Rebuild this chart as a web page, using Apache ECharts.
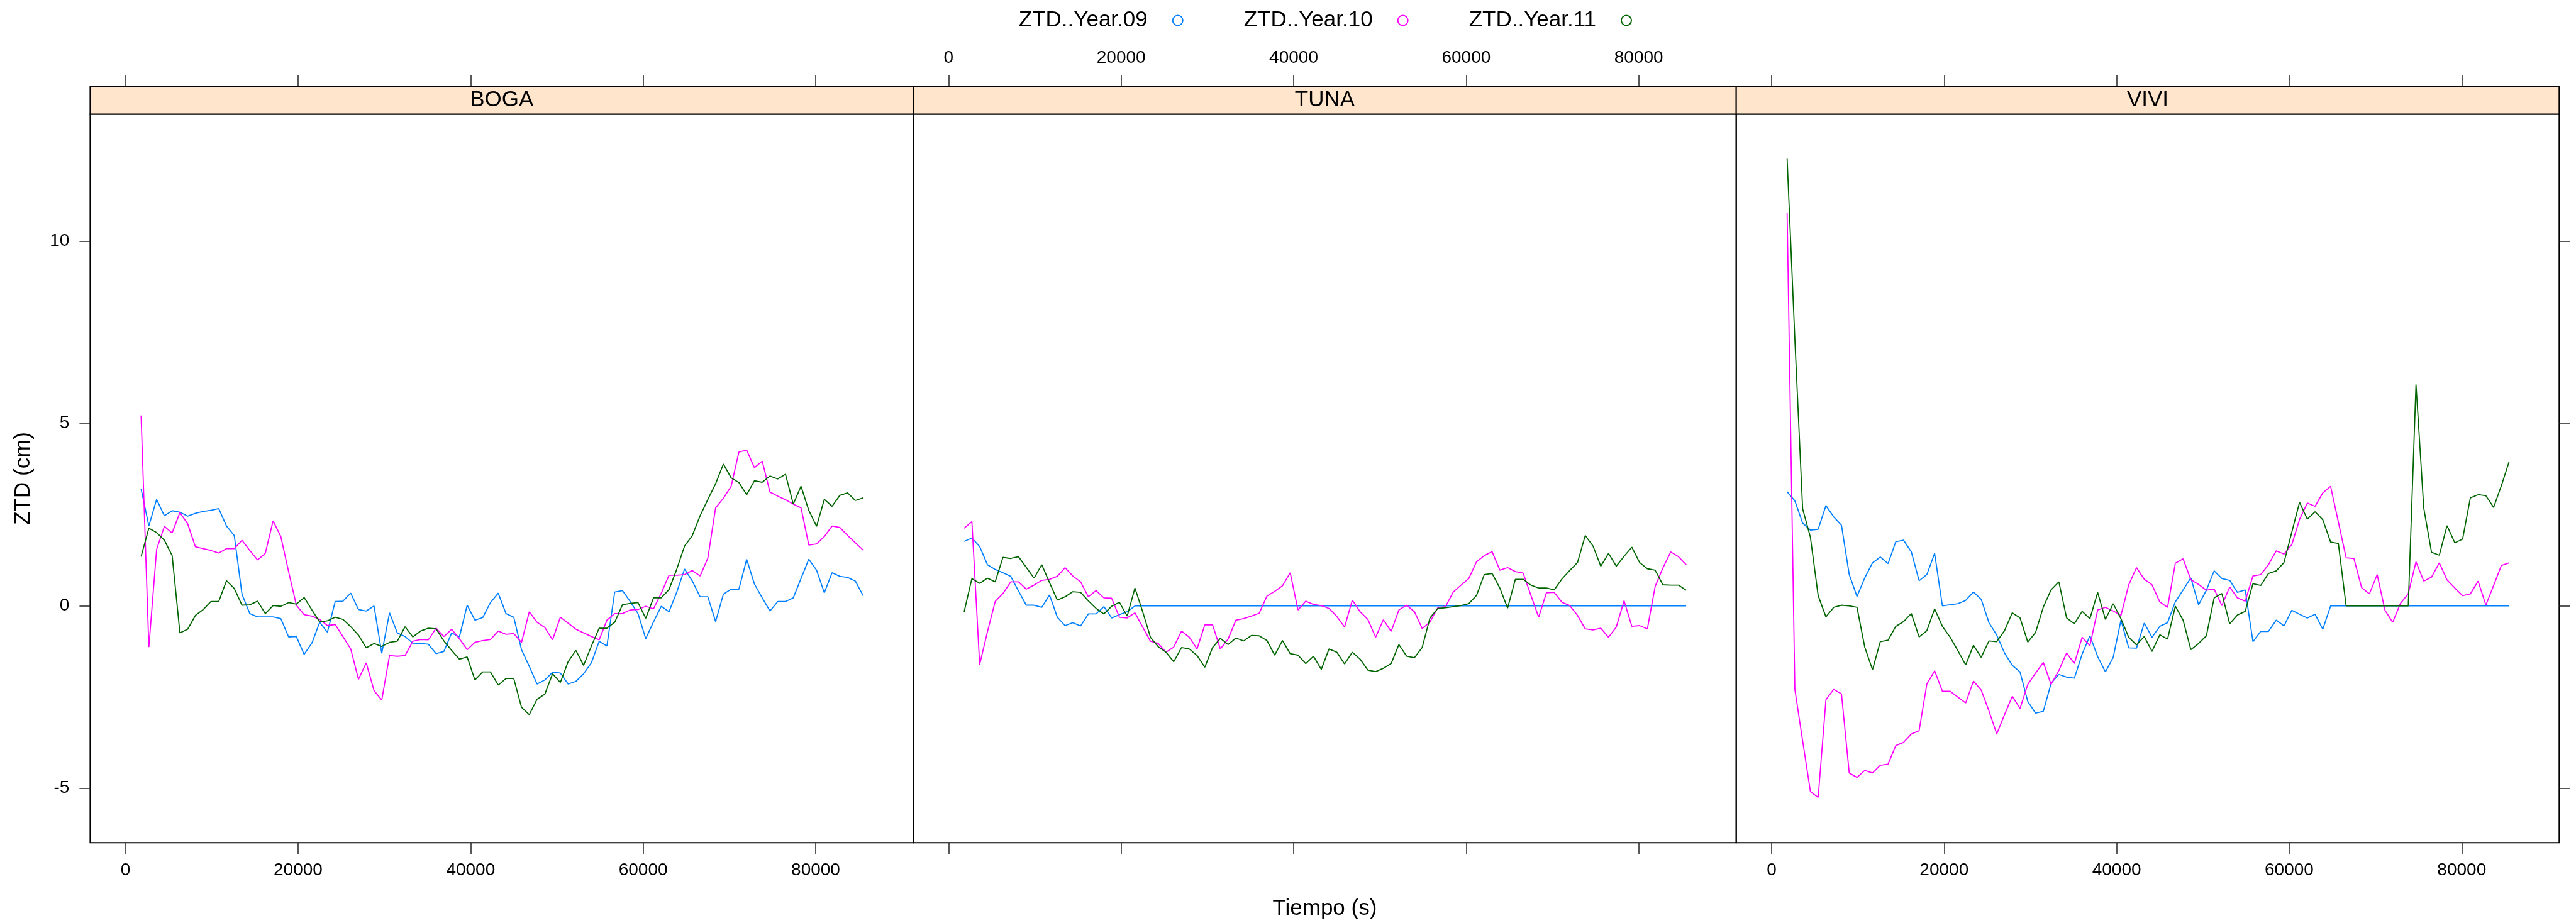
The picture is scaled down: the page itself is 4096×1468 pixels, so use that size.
<!DOCTYPE html>
<html>
<head>
<meta charset="utf-8">
<script src="https://cdn.jsdelivr.net/npm/echarts@6/dist/echarts.min.js"></script>
<style>
html,body{margin:0;padding:0;background:#fff;}
#chart{width:4096px;height:1468px;}
</style>
</head>
<body>
<div id="chart"></div>
<script>
// ---------- data ----------
const sites = ['BOGA', 'TUNA', 'VIVI'];
const seriesNames = ['ZTD..Year.09', 'ZTD..Year.10', 'ZTD..Year.11'];
const xTicks = [0, 20000, 40000, 60000, 80000];
const yTicks = [-5, 0, 5, 10];
const times = [1800,2700,3600,4500,5400,6300,7200,8100,9000,9900,
  10800,11700,12600,13500,14400,15300,16200,17100,18000,18900,
  19800,20700,21600,22500,23400,24300,25200,26100,27000,27900,
  28800,29700,30600,31500,32400,33300,34200,35100,36000,36900,
  37800,38700,39600,40500,41400,42300,43200,44100,45000,45900,
  46800,47700,48600,49500,50400,51300,52200,53100,54000,54900,
  55800,56700,57600,58500,59400,60300,61200,62100,63000,63900,
  64800,65700,66600,67500,68400,69300,70200,71100,72000,72900,
  73800,74700,75600,76500,77400,78300,79200,80100,81000,81900,
  82800,83700,84600,85500];

const boga09 = [3.21,2.19,2.92,2.47,2.61,2.57,2.46,2.54,2.59,2.62,
  2.67,2.19,1.93,0.32,-0.21,-0.30,-0.30,-0.30,-0.35,-0.85,
  -0.84,-1.33,-1.02,-0.45,-0.72,0.12,0.13,0.35,-0.10,-0.14,
  0.00,-1.30,-0.19,-0.74,-0.84,-1.02,-1.03,-1.05,-1.31,-1.25,
  -0.74,-0.85,0.02,-0.39,-0.32,0.09,0.35,-0.21,-0.31,-1.20,
  -1.66,-2.14,-2.03,-1.82,-1.84,-2.14,-2.07,-1.86,-1.56,-0.97,
  -1.10,0.38,0.42,0.12,-0.21,-0.90,-0.44,-0.01,-0.16,0.38,
  1.01,0.68,0.25,0.25,-0.43,0.32,0.46,0.46,1.28,0.60,
  0.22,-0.14,0.12,0.12,0.22,0.75,1.28,0.98,0.36,0.91,
  0.81,0.78,0.68,0.28];
const boga10 = [5.22,-1.13,1.55,2.18,2.00,2.56,2.25,1.62,1.57,1.52,
  1.45,1.57,1.57,1.80,1.52,1.26,1.44,2.33,1.90,0.94,
  0.02,-0.24,-0.28,-0.37,-0.54,-0.51,-0.84,-1.18,-2.01,-1.56,
  -2.32,-2.58,-1.36,-1.38,-1.36,-0.97,-0.92,-0.93,-0.61,-0.84,
  -0.64,-0.90,-1.20,-1.00,-0.95,-0.92,-0.69,-0.78,-0.76,-1.00,
  -0.16,-0.45,-0.59,-0.93,-0.31,-0.47,-0.64,-0.74,-0.84,-0.93,
  -0.39,-0.21,-0.21,-0.11,-0.10,-0.01,-0.08,0.35,0.84,0.84,
  0.86,0.97,0.82,1.31,2.69,2.95,3.28,4.22,4.27,3.79,
  3.97,3.12,3.01,2.91,2.79,2.69,1.67,1.70,1.90,2.19,
  2.15,1.93,1.73,1.53];
const boga11 = [1.35,2.13,2.01,1.80,1.38,-0.74,-0.64,-0.26,-0.10,0.12,
  0.12,0.69,0.48,0.02,0.03,0.13,-0.21,0.01,-0.01,0.09,
  0.05,0.23,-0.11,-0.44,-0.41,-0.31,-0.37,-0.57,-0.80,-1.15,
  -1.03,-1.11,-1.00,-0.97,-0.57,-0.85,-0.69,-0.61,-0.63,-0.96,
  -1.22,-1.46,-1.40,-2.03,-1.81,-1.81,-2.17,-1.99,-1.99,-2.78,
  -2.98,-2.56,-2.42,-1.86,-2.10,-1.53,-1.22,-1.63,-1.10,-0.61,
  -0.61,-0.45,0.03,0.07,0.09,-0.34,0.22,0.22,0.45,1.01,
  1.64,1.93,2.47,2.92,3.35,3.89,3.51,3.38,3.05,3.43,
  3.39,3.56,3.48,3.61,2.79,3.28,2.62,2.18,2.92,2.73,
  3.03,3.10,2.89,2.96];

const tuna09 = [1.77,1.86,1.63,1.13,1.00,0.91,0.81,0.41,0.02,0.02,
  -0.04,0.30,-0.31,-0.54,-0.46,-0.55,-0.22,-0.22,-0.02,-0.33,
  -0.24,-0.16,0,0,0,0,0,0,0,0,
  0,0,0,0,0,0,0,0,0,0,
  0,0,0,0,0,0,0,0,0,0,
  0,0,0,0,0,0,0,0,0,0,
  0,0,0,0,0,0,0,0,0,0,
  0,0,0,0,0,0,0,0,0,0,
  0,0,0,0,0,0,0,0,0,0,
  0,0,0,0];
const tuna10 = [2.13,2.31,-1.61,-0.71,0.12,0.34,0.66,0.66,0.46,0.57,
  0.70,0.73,0.81,1.05,0.82,0.66,0.25,0.42,0.22,0.21,
  -0.31,-0.33,-0.19,-0.58,-0.97,-1.03,-1.27,-1.13,-0.69,-0.86,
  -1.18,-0.52,-0.52,-1.18,-0.91,-0.39,-0.35,-0.28,-0.20,0.27,
  0.40,0.55,0.91,-0.11,0.13,0.04,0.01,-0.07,-0.29,-0.58,
  0.16,-0.16,-0.37,-0.86,-0.38,-0.70,-0.11,0.02,-0.16,-0.62,
  -0.44,-0.05,-0.02,0.38,0.57,0.75,1.21,1.38,1.49,0.98,
  1.05,0.94,0.90,0.29,-0.31,0.36,0.37,0.10,0.01,-0.26,
  -0.63,-0.66,-0.61,-0.86,-0.58,0.14,-0.56,-0.54,-0.63,0.53,
  1.04,1.48,1.35,1.13];
const tuna11 = [-0.16,0.75,0.62,0.76,0.66,1.33,1.30,1.35,1.06,0.76,
  1.13,0.64,0.16,0.25,0.39,0.37,0.14,-0.07,-0.22,-0.01,
  0.10,-0.28,0.49,-0.16,-0.86,-1.12,-1.27,-1.53,-1.14,-1.18,
  -1.36,-1.68,-1.14,-0.89,-1.06,-0.88,-0.96,-0.81,-0.82,-0.95,
  -1.35,-0.95,-1.31,-1.35,-1.58,-1.38,-1.74,-1.18,-1.27,-1.59,
  -1.27,-1.46,-1.76,-1.80,-1.71,-1.58,-1.06,-1.38,-1.42,-1.14,
  -0.33,-0.07,-0.05,-0.02,0.01,0.06,0.29,0.86,0.89,0.49,
  -0.06,0.73,0.73,0.57,0.49,0.49,0.44,0.74,0.97,1.19,
  1.93,1.64,1.09,1.44,1.09,1.36,1.61,1.19,1.02,0.98,
  0.58,0.57,0.57,0.43];

const vivi09 = [3.13,2.88,2.27,2.08,2.10,2.75,2.44,2.21,0.86,0.26,
  0.77,1.18,1.34,1.16,1.76,1.80,1.48,0.69,0.86,1.44,
  0.00,0.03,0.06,0.15,0.38,0.18,-0.46,-0.80,-1.29,-1.63,
  -1.81,-2.62,-2.94,-2.89,-2.12,-1.88,-1.95,-1.98,-1.32,-0.82,
  -1.39,-1.81,-1.41,-0.39,-1.15,-1.16,-0.47,-0.86,-0.56,-0.46,
  0.11,0.44,0.77,0.03,0.43,0.96,0.75,0.70,0.37,0.44,
  -0.98,-0.70,-0.70,-0.39,-0.55,-0.12,-0.23,-0.33,-0.23,-0.64,
  0,0,0,0,0,0,0,0,0,0,
  0,0,0,0,0,0,0,0,0,0,
  0,0,0,0];
const vivi10 = [10.78,-2.29,-3.70,-5.09,-5.25,-2.57,-2.29,-2.41,-4.58,-4.70,
  -4.51,-4.58,-4.37,-4.34,-3.83,-3.74,-3.51,-3.42,-2.14,-1.78,
  -2.34,-2.34,-2.50,-2.66,-2.06,-2.31,-2.88,-3.51,-2.98,-2.48,
  -2.81,-2.15,-1.84,-1.55,-2.15,-1.77,-1.29,-1.58,-0.86,-1.09,
  -0.11,-0.04,-0.14,-0.26,0.58,1.05,0.73,0.58,0.11,-0.04,
  1.17,1.29,0.72,0.59,0.43,0.46,0.01,0.52,0.22,0.13,
  0.82,0.86,1.13,1.51,1.42,1.68,2.37,2.82,2.73,3.10,
  3.28,2.30,1.32,1.30,0.50,0.33,0.86,-0.12,-0.45,0.07,
  0.33,1.21,0.68,0.79,1.18,0.71,0.49,0.28,0.33,0.68,
  0.02,0.56,1.11,1.18];
const vivi11 = [12.26,7.30,2.66,1.88,0.28,-0.30,-0.04,0.02,0.00,-0.04,
  -1.13,-1.75,-0.98,-0.94,-0.56,-0.43,-0.21,-0.85,-0.68,-0.08,
  -0.56,-0.86,-1.23,-1.62,-1.08,-1.41,-0.96,-0.98,-0.68,-0.19,
  -0.33,-0.99,-0.73,-0.03,0.44,0.66,-0.33,-0.49,-0.15,-0.35,
  0.37,-0.37,0.06,-0.35,-0.86,-1.07,-0.84,-1.25,-0.79,-0.91,
  -0.01,-0.39,-1.20,-1.03,-0.82,0.22,0.34,-0.49,-0.25,-0.15,
  0.61,0.56,0.89,0.96,1.19,2.02,2.84,2.38,2.58,2.36,
  1.75,1.71,0,0,0,0,0,0,0,0,
  0,6.07,2.68,1.47,1.39,2.20,1.73,1.83,2.96,3.05,
  3.02,2.70,3.30,3.96];

// ---------- chart ----------
const FONT = '"Liberation Sans", Arial, Helvetica, sans-serif';
const colors = ['#0080ff', '#ff00ff', '#006400'];
const siteSeries = [[boga09, boga10, boga11], [tuna09, tuna10, tuna11], [vivi09, vivi10, vivi11]];

const LEFTS = [143.4, 1452.1, 2760.7];
const W = 1308.6, TOP = 181.6, H = 1158.6, SH = 43.7;
const XMIN = -4100, XMAX = 91300, YMIN = -6.49, YMAX = 13.48;

const tickStyle = {color: '#222', width: 1.5};
const plain = v => String(v);
const labelBase = {fontSize: 28, color: '#000', fontFamily: FONT, formatter: plain};

const grids = LEFTS.map(l => ({
  left: l, top: TOP, width: W, height: H,
  show: true, borderColor: '#000', borderWidth: 2, backgroundColor: 'transparent',
  containLabel: false, outerBoundsMode: 'none'
}));

const xAxes = [];
LEFTS.forEach((l, i) => {
  xAxes.push({
    type: 'value', gridIndex: i, position: 'bottom', min: XMIN, max: XMAX,
    axisLine: {show: false, onZero: false},
    splitLine: {show: false},
    axisTick: {show: true, inside: false, length: 18, customValues: xTicks, lineStyle: tickStyle},
    axisLabel: Object.assign({show: i !== 1, customValues: xTicks, margin: 30}, labelBase),
    name: i === 1 ? 'Tiempo (s)' : '', nameLocation: 'middle', nameGap: 88,
    nameTextStyle: {fontSize: 35, color: '#000', fontFamily: FONT}
  });
});
LEFTS.forEach((l, i) => {
  xAxes.push({
    type: 'value', gridIndex: i, position: 'top', offset: SH, min: XMIN, max: XMAX,
    axisLine: {show: false, onZero: false},
    splitLine: {show: false},
    axisTick: {show: true, inside: false, length: 18, customValues: xTicks, lineStyle: tickStyle},
    axisLabel: Object.assign({show: i === 1, customValues: xTicks, margin: 32}, labelBase)
  });
});

const yAxes = [];
LEFTS.forEach((l, i) => {
  yAxes.push({
    type: 'value', gridIndex: i, position: 'left', min: YMIN, max: YMAX,
    axisLine: {show: false, onZero: false},
    splitLine: {show: false},
    axisTick: {show: i === 0, inside: false, length: 17, customValues: yTicks, lineStyle: tickStyle},
    axisLabel: Object.assign({show: i === 0, customValues: yTicks, margin: 33}, labelBase),
    name: i === 0 ? 'ZTD (cm)' : '', nameLocation: 'middle', nameGap: 89, nameRotate: 90,
    nameTextStyle: {fontSize: 35, color: '#000', fontFamily: FONT}
  });
});
yAxes.push({
  type: 'value', gridIndex: 2, position: 'right', min: YMIN, max: YMAX,
  axisLine: {show: false, onZero: false},
  splitLine: {show: false},
  axisTick: {show: true, inside: false, length: 17, customValues: yTicks, lineStyle: tickStyle},
  axisLabel: {show: false}
});

const series = [];
siteSeries.forEach((arrs, i) => {
  arrs.forEach((vals, j) => {
    series.push({
      type: 'line', name: seriesNames[j], xAxisIndex: i, yAxisIndex: i,
      data: times.map((t, k) => [t, vals[k]]),
      showSymbol: false, symbol: 'none', smooth: false,
      lineStyle: {color: colors[j], width: 1.8},
      itemStyle: {color: colors[j]},
      emphasis: {disabled: true},
      z: 2 + j
    });
  });
});

const graphics = [];
LEFTS.forEach((l, i) => {
  graphics.push({
    type: 'rect', z: 20,
    shape: {x: l, y: TOP - SH, width: W, height: SH},
    style: {fill: '#ffe5cc', stroke: '#000', lineWidth: 2}
  });
  graphics.push({
    type: 'text', z: 21, x: l + W / 2, y: TOP - SH / 2,
    style: {text: sites[i], fontSize: 35, fill: '#000', align: 'center', verticalAlign: 'middle', fontFamily: FONT}
  });
});

const chart = echarts.init(document.getElementById('chart'), null, {renderer: 'canvas', width: 4096, height: 1468});
chart.setOption({
  animation: false,
  backgroundColor: '#fff',
  color: colors,
  textStyle: {fontFamily: FONT},
  legend: {
    data: seriesNames, left: 1614.8, top: 10, orient: 'horizontal', align: 'right',
    icon: 'emptyCircle', itemWidth: 16, itemHeight: 16, itemGap: 96, selectedMode: false,
    textStyle: {fontSize: 35, color: '#000', fontFamily: FONT, padding: [0, 35, 0, 0]}
  },
  grid: grids,
  xAxis: xAxes,
  yAxis: yAxes,
  series: series,
  graphic: graphics
});
</script>
</body>
</html>
